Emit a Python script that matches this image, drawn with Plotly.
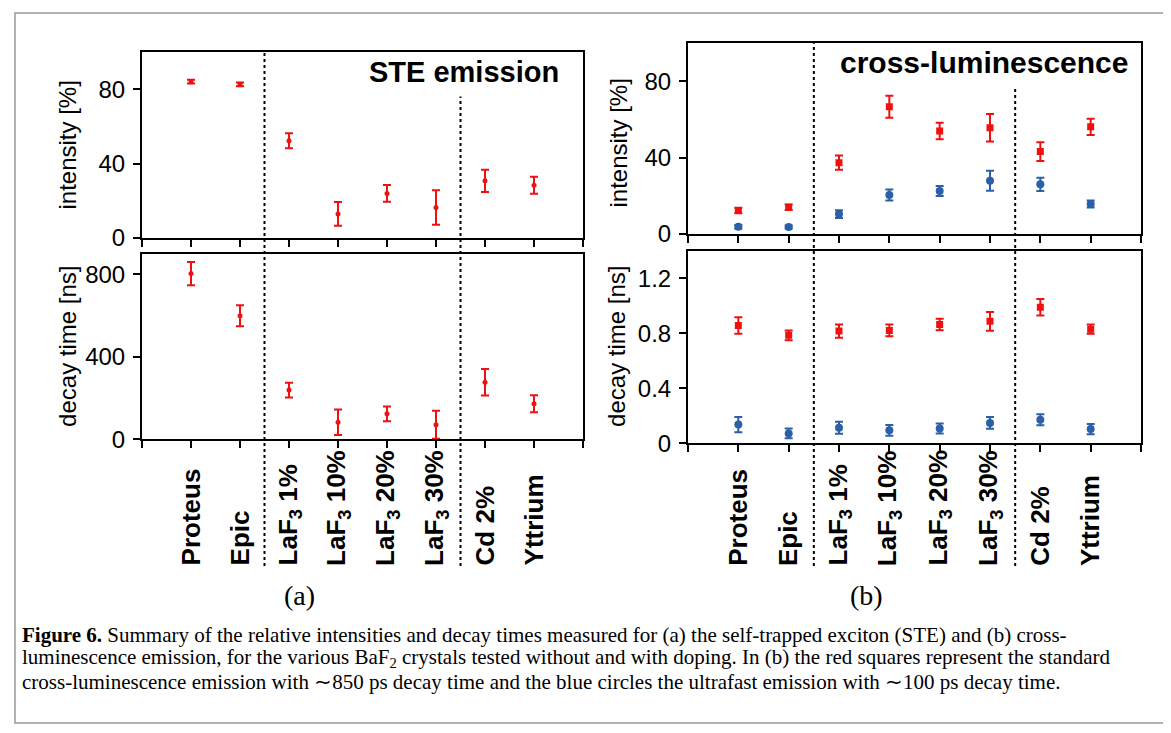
import plotly.graph_objects as go

W, H = 1171, 733

# ---------------- data ----------------
categories = ["Proteus", "Epic", "LaF<sub>3</sub> 1%", "LaF<sub>3</sub> 10%",
              "LaF<sub>3</sub> 20%", "LaF<sub>3</sub> 30%", "Cd 2%", "Yttrium"]
x_pos = list(range(1, len(categories) + 1))

ste_intensity = [84.1, 82.7, 52.3, 12.9, 23.9, 16.3, 30.7, 28.3]
ste_intensity_err = [1.0, 1.0, 4.0, 6.4, 4.5, 9.3, 6.0, 4.6]
ste_decay = [803, 599, 238, 82, 123, 70, 276, 172]
ste_decay_err = [56, 51, 36, 62, 36, 68, 64, 41]

cl_intensity = [12.3, 14.0, 37.4, 66.7, 54.0, 55.7, 43.2, 56.2]
cl_intensity_err = [1.4, 1.4, 3.7, 5.8, 4.3, 7.2, 4.9, 4.3]
uf_intensity = [3.7, 3.6, 10.4, 20.4, 22.5, 27.9, 26.0, 15.7]
uf_intensity_err = [1.0, 0.8, 2.0, 2.9, 2.6, 5.3, 3.5, 1.9]
cl_decay = [0.855, 0.784, 0.815, 0.82, 0.863, 0.886, 0.989, 0.829]
cl_decay_err = [0.06, 0.036, 0.048, 0.043, 0.042, 0.068, 0.06, 0.033]
uf_decay = [0.135, 0.071, 0.112, 0.093, 0.107, 0.147, 0.171, 0.102]
uf_decay_err = [0.056, 0.036, 0.043, 0.039, 0.036, 0.043, 0.04, 0.038]

group_boundaries = [2.5, 6.5]

caption_lines = [
    "<b>Figure 6.</b> Summary of the relative intensities and decay times measured for (a) the self-trapped exciton (STE) and (b) cross-",
    "luminescence emission, for the various BaF<sub>2</sub> crystals tested without and with doping. In (b) the red squares represent the standard",
    "cross-luminescence emission with \u223c850 ps decay time and the blue circles the ultrafast emission with \u223c100 ps decay time.",
]

RED = "#f01010"
BLUE = "#2b5fa8"
SANS = "Liberation Sans, Arial, sans-serif"
SERIF = "Liberation Serif, Times New Roman, serif"


def X(px):
    return px / W


def Y(py):
    return 1 - py / H


fig = go.Figure()


def add_series(xa, ya, y, err, color, symbol, size):
    fig.add_trace(go.Scatter(
        x=x_pos, y=y, mode="markers", xaxis=xa, yaxis=ya,
        marker=dict(color=color, symbol=symbol, size=size, line=dict(width=0)),
        error_y=dict(type="data", array=err, visible=True, color=color,
                     thickness=2, width=4),
        showlegend=False, hoverinfo="x+y"))


add_series("x", "y", ste_intensity, ste_intensity_err, RED, "circle", 5)
add_series("x2", "y2", ste_decay, ste_decay_err, RED, "circle", 5)
add_series("x3", "y3", cl_intensity, cl_intensity_err, RED, "square", 7)
add_series("x3", "y3", uf_intensity, uf_intensity_err, BLUE, "circle", 8)
add_series("x4", "y4", cl_decay, cl_decay_err, RED, "square", 7)
add_series("x4", "y4", uf_decay, uf_decay_err, BLUE, "circle", 8)

# ---- axes ----
panels = {
    "a": dict(left=134, right=575, top=(45, 234), bot=(250, 439)),
    "b": dict(left=680, right=1133, top=(36, 230), bot=(247, 443)),
}


def xaxis(p, anchor):
    return dict(domain=[X(panels[p]["left"]), X(panels[p]["right"])],
                range=[0, len(categories) + 1], tickmode="array",
                tickvals=list(range(0, len(categories) + 2)),
                showticklabels=False, ticks="outside", ticklen=7, tickwidth=2,
                tickcolor="black", showline=True, linecolor="black",
                linewidth=2, mirror=True, showgrid=False, zeroline=False,
                anchor=anchor, fixedrange=True)


def yaxis(p, which, rng, tickvals, anchor):
    t, b = panels[p][which]
    return dict(domain=[Y(b), Y(t)], range=rng, tickmode="array",
                tickvals=tickvals, ticks="outside", ticklen=7, tickwidth=2,
                tickcolor="black", showline=True, linecolor="black",
                linewidth=2, mirror=True, showgrid=False, zeroline=False,
                ticklabelstandoff=3,
                tickfont=dict(family=SANS, size=24, color="black"),
                anchor=anchor, fixedrange=True)


fig.update_layout(
    xaxis=xaxis("a", "y"),
    xaxis2=xaxis("a", "y2"),
    xaxis3=xaxis("b", "y3"),
    xaxis4=xaxis("b", "y4"),
    yaxis=yaxis("a", "top", [0, 100], [0, 40, 80], "x"),
    yaxis2=yaxis("a", "bot", [0, 900], [0, 400, 800], "x2"),
    yaxis3=yaxis("b", "top", [0, 100], [0, 40, 80], "x3"),
    yaxis4=yaxis("b", "bot", [0, 1.4], [0, 0.4, 0.8, 1.2], "x4"),
)

annotations = []
shapes = []


def ann(text, px, py, size, family=SANS, xanchor="center", yanchor="middle", angle=0, xref="paper"):
    annotations.append(dict(text=text, x=(px if xref != "paper" else X(px)), y=Y(py),
                            xref=xref, yref="paper", xanchor=xanchor, yanchor=yanchor,
                            textangle=angle, showarrow=False, borderpad=0,
                            font=dict(family=family, size=size, color="black")))


# axis titles
ann("intensity [%]", 60, 140, 24, angle=-90)
ann("decay time [ns]", 60, 345, 24, angle=-90)
ann("intensity [%]", 611, 138, 24, angle=-90)
ann("decay time [ns]", 609, 345, 24, angle=-90)

# panel titles
ann("<b>STE emission</b>", 552, 65, 29, xanchor="right")
ann("<b>cross-luminescence</b>", 1121, 55, 30, xanchor="right")

# category labels (bottom aligned, rotated)
for xa in ("x2", "x4"):
    for xv, name in zip(x_pos, categories):
        ann("<b>" + name + "</b>", xv, 569, 26, yanchor="bottom", angle=-90, xref=xa)

# panel labels
ann("(a)", 291, 598, 28, family=SERIF)
ann("(b)", 858, 598, 28, family=SERIF)

# caption
for i, line in enumerate(caption_lines):
    ann(line, 13, 638 + 24 * i, 21, family=SERIF, xanchor="left")

# dotted group separators
for xa, tops in (("x", (45, 90)), ("x3", (36, 80))):
    for xv, ytop in zip(group_boundaries, tops):
        shapes.append(dict(type="line", xref=xa, yref="paper", x0=xv, x1=xv,
                           y0=Y(568), y1=Y(ytop),
                           line=dict(color="black", width=2, dash="dot")))

# outer frame
shapes.append(dict(type="rect", xref="paper", yref="paper", x0=X(7), x1=X(1165),
                   y0=Y(728), y1=Y(5), line=dict(color="#9a9a9a", width=1.5)))

fig.update_layout(
    width=W, height=H, autosize=False,
    margin=dict(l=0, r=0, t=0, b=0),
    paper_bgcolor="white", plot_bgcolor="white",
    showlegend=False,
    annotations=annotations, shapes=shapes,
)

fig.write_html("out.html")
